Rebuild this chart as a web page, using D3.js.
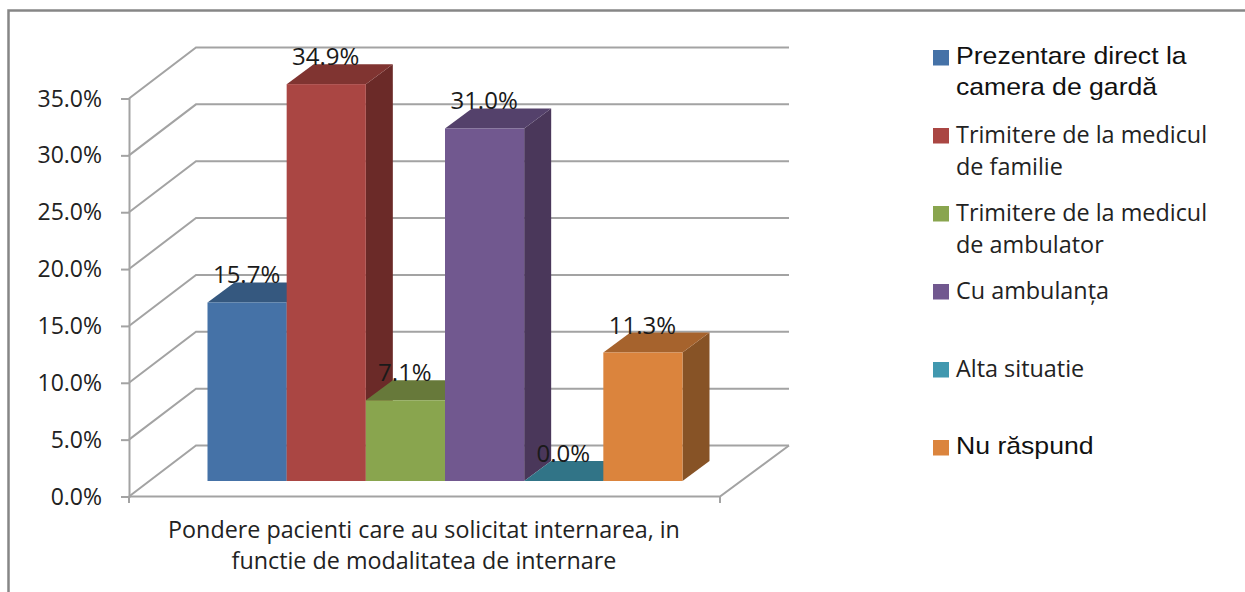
<!DOCTYPE html>
<html>
<head>
    <meta charset="utf-8">
    <title>Pondere pacienti</title>
    <script src="https://d3js.org/d3.v7.min.js"></script>
    <style>
        html, body { margin: 0; padding: 0; background: #fff; }
        svg { display: block; }
    </style>
</head>

<body>
<div id="chart"></div>

<script type="text/javascript">
    let categories = ["Prezentare direct la camera de gardă", "Trimitere de la medicul de familie", "Trimitere de la medicul de ambulator", "Cu ambulanța", "Alta situatie", "Nu răspund"]
    let values = [15.7, 34.9, 7.1, 31.0, 0.0, 11.3]
    let valueLabels = ["15.7%", "34.9%", "7.1%", "31.0%", "0.0%", "11.3%"]
    let yTicks = [0, 5, 10, 15, 20, 25, 30, 35]
    let frontColors = ["#4572a7", "#aa4643", "#89a54e", "#71588f", "#4198af", "#db843d"]
    let topColors = ["#35587f", "#803431", "#67793a", "#54416b", "#317487", "#a6632d"]
    let sideColors = ["#2a4666", "#6b2a28", "#54632f", "#4a375a", "#285f6e", "#875326"]
    let legendLines = [["Prezentare direct la", "camera de gardă"], ["Trimitere de la medicul", "de familie"], ["Trimitere de la medicul", "de ambulator"], ["Cu ambulanța"], ["Alta situatie"], ["Nu răspund"]]
    let axisTitle = ["Pondere pacienti care au solicitat internarea, in", "functie de modalitatea de internare"]

    const width = 1245, height = 592
    const sans = "'Open Sans', sans-serif"
    const gridColor = "#a3a3a3"

    // the 3D box: front plane, and the offset of the back wall
    const frontLeft = 129, frontRight = 720
    const wallDx = 67, wallDy = -51
    const barDx = 27, barDy = -20
    const barLift = -15.5

    let svg = d3.select("#chart").append("svg")
        .attr("width", width)
        .attr("height", height)

    let yScale = d3.scaleLinear().domain([0, 35]).range([496.5, 98.5])
    let xScale = d3.scaleBand().domain(d3.range(values.length)).range([207.5, 682.5])

    // chart frame, only left and top are in the crop
    svg.append("path")
        .attr("d", "M8.5,592V10.5H1245")
        .attr("fill", "none")
        .attr("stroke", "#868686")
        .attr("stroke-width", 2.5)

    // walls
    let grid = svg.append("g").attr("fill", "none").attr("stroke", gridColor).attr("stroke-width", 2)
    yTicks.forEach(function(t) {
        let y = yScale(t)
        grid.append("path").attr("d", d3.line()([
            [frontLeft, y],
            [frontLeft + wallDx, y + wallDy],
            [frontRight + wallDx + 2, y + wallDy]
        ]))
    })
    grid.append("path").attr("d", d3.line()([
        [frontLeft, yScale(0)], [frontRight, yScale(0)], [frontRight + wallDx + 2, yScale(0) + wallDy]
    ]))

    // axis on the front plane
    let yAxis = d3.axisLeft(yScale)
        .tickValues(yTicks)
        .tickSize(8)
        .tickPadding(19)
        .tickFormat(function(d) { return d3.format(".1f")(d) + "%" })

    let axisG = svg.append("g")
        .attr("transform", "translate(" + frontLeft + ",0)")
        .call(yAxis)
    axisG.selectAll("path, line").attr("stroke", gridColor).attr("stroke-width", 2)
    axisG.selectAll("text")
        .attr("dy", "7.5px")
        .attr("font-family", sans)
        .attr("font-size", "23px")
        .attr("fill", "#222")

    // small tick under the floor at both ends
    svg.append("path")
        .attr("d", "M" + frontLeft + ",496V503M" + frontRight + ",496V503")
        .attr("stroke", gridColor).attr("stroke-width", 2).attr("fill", "none")

    // bars, left to right so each one covers the side of the one before
    let barTop = function(v) { return yScale(v) + barLift }
    let bars = svg.selectAll("g.bar").data(values).enter().append("g").attr("class", "bar")

    bars.append("path")
        .attr("fill", function(d, i) { return sideColors[i] })
        .attr("d", function(d, i) {
            let x = xScale(i) + xScale.bandwidth(), t = barTop(d), b = barTop(0)
            return d3.line()([[x, t], [x + barDx, t + barDy], [x + barDx, b + barDy], [x, b]]) + "Z"
        })
    bars.append("path")
        .attr("fill", function(d, i) { return topColors[i] })
        .attr("d", function(d, i) {
            let x = xScale(i), w = xScale.bandwidth(), t = barTop(d)
            return d3.line()([[x, t], [x + barDx, t + barDy], [x + w + barDx, t + barDy], [x + w, t]]) + "Z"
        })
    bars.append("rect")
        .attr("fill", function(d, i) { return frontColors[i] })
        .attr("x", function(d, i) { return xScale(i) })
        .attr("y", function(d) { return barTop(d) })
        .attr("width", xScale.bandwidth())
        .attr("height", function(d) { return barTop(0) - barTop(d) })

    // value labels sit above the back edge of the top face
    svg.selectAll("text.value").data(values).enter().append("text")
        .attr("class", "value")
        .attr("x", function(d, i) { return xScale(i) + xScale.bandwidth() / 2 - 0.5 })
        .attr("y", function(d) { return barTop(d) + barDy + 1 })
        .attr("text-anchor", "middle")
        .attr("font-family", sans)
        .attr("font-size", "24px")
        .attr("fill", "#1a1a1a")
        .text(function(d, i) { return valueLabels[i] })

    // category title under the axis
    svg.selectAll("text.title").data(axisTitle).enter().append("text")
        .attr("class", "title")
        .attr("x", 424)
        .attr("y", function(d, i) { return 538 + i * 31 })
        .attr("text-anchor", "middle")
        .attr("font-family", sans)
        .attr("font-size", "23.3px")
        .attr("fill", "#222")
        .text(function(d) { return d })

    // legend
    let legend = svg.selectAll("g.legend").data(categories).enter().append("g")
        .attr("class", "legend")
        .attr("transform", function(d, i) { return "translate(933," + (50 + i * 78) + ")" })
    legend.append("rect")
        .attr("width", 16)
        .attr("height", 15.5)
        .attr("fill", function(d, i) { return frontColors[i] })
    legend.each(function(d, i) {
        // first and last entries are in Arial in the original, and stretched wider
        let arial = i == 0 || i == 5
        let stretch = arial ? 1.1 : 1
        d3.select(this).selectAll("text").data(legendLines[i]).enter().append("text")
            .attr("transform", "scale(" + stretch + ",1)")
            .attr("x", 23 / stretch)
            .attr("y", function(l, j) { return (arial ? 13.5 : 15) + j * 31.5 })
            .attr("font-family", arial ? "'Liberation Sans', sans-serif" : sans)
            .attr("font-size", arial ? "24.2px" : "23.4px")
            .attr("fill", arial ? "#111" : "#222")
            .text(function(l) { return l })
    })
</script>
</body>
</html>
